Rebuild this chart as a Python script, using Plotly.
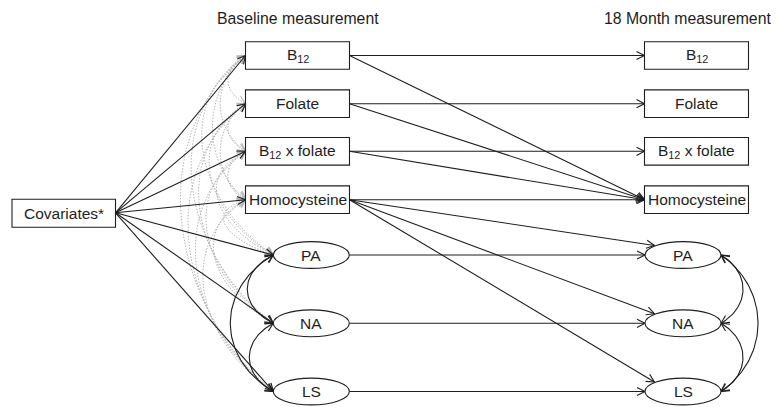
import numpy as np
import plotly.graph_objects as go

# ---------------- data ----------------
node_labels = ["B<sub>12</sub>", "Folate", "B<sub>12</sub> x folate", "Homocysteine", "PA", "NA", "LS"]
node_kinds = ["box", "box", "box", "box", "ellipse", "ellipse", "ellipse"]
source_label = "Covariates*"
wave_titles = ["Baseline measurement", "18 Month measurement"]
covariate_paths = [0, 1, 2, 3, 4, 5, 6]
stability_paths = [0, 1, 2, 3, 4, 5, 6]
cross_lagged_paths = [(0, 3), (1, 3), (2, 3), (3, 4), (3, 5), (3, 6)]
affect_correlations = [(4, 5), (5, 6), (4, 6)]
baseline_correlations = [(0, 1), (0, 2), (0, 3), (0, 4), (0, 5), (0, 6),
                         (1, 2), (1, 3), (1, 4), (1, 5), (1, 6),
                         (2, 3), (2, 4), (2, 5), (2, 6),
                         (3, 4), (3, 5), (3, 6)]

# ---------------- geometry (layout) ----------------
W, H = 783, 407
BOX_X = [(245.5, 349.5), (644.5, 748.5)]
BOX_Y = [55.5, 103.7, 151.3, 199.7]
BOX_HH = 13.8
ELL_CX = [311.3, 683.0]
ELL_RX, ELL_RY = 38.0, 13.4
ELL_Y = [255.0, 323.3, 391.5]
COV_BOX = (12, 115.5, 199.3, 227.3)
FONT = "Liberation Sans, Arial, sans-serif"
FS = 15.5
INK = "#1e1e1e"
GREY = "#b4b4b4"


def center(wave, i):
    if node_kinds[i] == "box":
        return ((BOX_X[wave][0] + BOX_X[wave][1]) / 2, BOX_Y[i])
    return (ELL_CX[wave], ELL_Y[i - 4])


def left_pt(wave, i):
    cx, cy = center(wave, i)
    if node_kinds[i] == "box":
        return (BOX_X[wave][0], cy)
    return (cx - ELL_RX, cy)


def right_pt(wave, i):
    cx, cy = center(wave, i)
    if node_kinds[i] == "box":
        return (BOX_X[wave][1], cy)
    return (cx + ELL_RX, cy)


def upper_left_pt(wave, i):
    cx, cy = center(wave, i)
    return (cx - 28.5, cy - 9.5)


black_x, black_y = [], []
grey_x, grey_y = [], []
bhead_x, bhead_y = [], []
ghead_x, ghead_y = [], []


def head(tip, frm, hx, hy, L=9.0, ang=27):
    d = np.array(tip) - np.array(frm)
    d = d / np.linalg.norm(d)
    for s in (1, -1):
        a = np.radians(ang * s)
        r = np.array([d[0] * np.cos(a) - d[1] * np.sin(a), d[0] * np.sin(a) + d[1] * np.cos(a)])
        p = np.array(tip) - L * r
        hx += [p[0], tip[0], None]
        hy += [p[1], tip[1], None]


def straight(p0, p1):
    black_x.extend([p0[0], p1[0], None])
    black_y.extend([p0[1], p1[1], None])
    head(p1, p0, bhead_x, bhead_y)


def cubic(p0, p1, d, side, xs, ys, hx, hy, k=0.25):
    dy = p1[1] - p0[1]
    c0 = (p0[0] + side * d, p0[1] + k * dy)
    c1 = (p1[0] + side * d, p1[1] - k * dy)
    t = np.linspace(0, 1, 60)
    bx = (1 - t) ** 3 * p0[0] + 3 * (1 - t) ** 2 * t * c0[0] + 3 * (1 - t) * t ** 2 * c1[0] + t ** 3 * p1[0]
    by = (1 - t) ** 3 * p0[1] + 3 * (1 - t) ** 2 * t * c0[1] + 3 * (1 - t) * t ** 2 * c1[1] + t ** 3 * p1[1]
    xs.extend(list(bx) + [None])
    ys.extend(list(by) + [None])
    head(p1, (bx[-4], by[-4]), hx, hy)
    head(p0, (bx[3], by[3]), hx, hy)


# baseline grey correlations
for i, j in baseline_correlations:
    p0, p1 = left_pt(0, i), left_pt(0, j)
    span = abs(p1[1] - p0[1])
    bulge = 10 + 0.16 * span
    leftmost = min(p0[0], p1[0]) - bulge
    d = ((p0[0] + p1[0]) / 2 - leftmost) / 0.75
    cubic(p0, p1, d, -1, grey_x, grey_y, ghead_x, ghead_y)

# covariates
cov_start = (COV_BOX[1], (COV_BOX[2] + COV_BOX[3]) / 2 - 0.5)
for i in covariate_paths:
    straight(cov_start, left_pt(0, i))

# stability
for i in stability_paths:
    straight(right_pt(0, i), left_pt(1, i))

# cross-lagged
for i, j in cross_lagged_paths:
    end = left_pt(1, j) if node_kinds[j] == "box" else upper_left_pt(1, j)
    straight(right_pt(0, i), end)

# affect correlations
left_bulge = {(4, 5): 26, (5, 6): 24, (4, 6): 43}
right_bulge = {(4, 5): 22, (5, 6): 22, (4, 6): 37}
for i, j in affect_correlations:
    cubic(left_pt(0, i), left_pt(0, j), left_bulge[(i, j)] / 0.75, -1,
          black_x, black_y, bhead_x, bhead_y)
    cubic(right_pt(1, i), right_pt(1, j), right_bulge[(i, j)] / 0.75, 1,
          black_x, black_y, bhead_x, bhead_y)

fig = go.Figure()
fig.add_trace(go.Scatter(x=grey_x, y=grey_y, mode="lines",
                         line=dict(color=GREY, width=1.0, dash="1.5px,1.5px"), hoverinfo="skip"))
fig.add_trace(go.Scatter(x=ghead_x, y=ghead_y, mode="lines",
                         line=dict(color=GREY, width=1.1), hoverinfo="skip"))
fig.add_trace(go.Scatter(x=black_x, y=black_y, mode="lines",
                         line=dict(color=INK, width=1.1), hoverinfo="skip"))
fig.add_trace(go.Scatter(x=bhead_x, y=bhead_y, mode="lines",
                         line=dict(color=INK, width=1.1), hoverinfo="skip"))

shapes = []
annotations = []
for wave in (0, 1):
    for i, lab in enumerate(node_labels):
        cx, cy = center(wave, i)
        if node_kinds[i] == "box":
            shapes.append(dict(type="rect", x0=BOX_X[wave][0], x1=BOX_X[wave][1],
                               y0=cy - BOX_HH, y1=cy + BOX_HH,
                               line=dict(color=INK, width=1.1), fillcolor="white", layer="above"))
        else:
            shapes.append(dict(type="circle", x0=cx - ELL_RX, x1=cx + ELL_RX,
                               y0=cy - ELL_RY, y1=cy + ELL_RY,
                               line=dict(color=INK, width=1.1), fillcolor="white", layer="above"))
        annotations.append(dict(x=cx, y=cy, text=lab, showarrow=False,
                                font=dict(family=FONT, size=FS, color=INK),
                                xanchor="center", yanchor="middle"))

shapes.append(dict(type="rect", x0=COV_BOX[0], x1=COV_BOX[1], y0=COV_BOX[2], y1=COV_BOX[3],
                   line=dict(color=INK, width=1.1), fillcolor="white", layer="above"))
annotations.append(dict(x=(COV_BOX[0] + COV_BOX[1]) / 2, y=(COV_BOX[2] + COV_BOX[3]) / 2,
                        text=source_label, showarrow=False,
                        font=dict(family=FONT, size=FS, color=INK)))
annotations.append(dict(x=297.5, y=18, text=wave_titles[0], showarrow=False,
                        font=dict(family=FONT, size=15.8, color=INK)))
annotations.append(dict(x=687, y=18, text=wave_titles[1], showarrow=False,
                        font=dict(family=FONT, size=15.8, color=INK)))

fig.update_layout(
    width=W, height=H, margin=dict(l=0, r=0, t=0, b=0),
    paper_bgcolor="white", plot_bgcolor="white", showlegend=False,
    xaxis=dict(range=[0, W], visible=False, fixedrange=True),
    yaxis=dict(range=[H, 0], visible=False, fixedrange=True),
    shapes=shapes, annotations=annotations,
)
fig.write_html("out.html", config={"displayModeBar": False},
               post_script="document.body.style.margin='0';document.body.style.overflow='hidden';")
